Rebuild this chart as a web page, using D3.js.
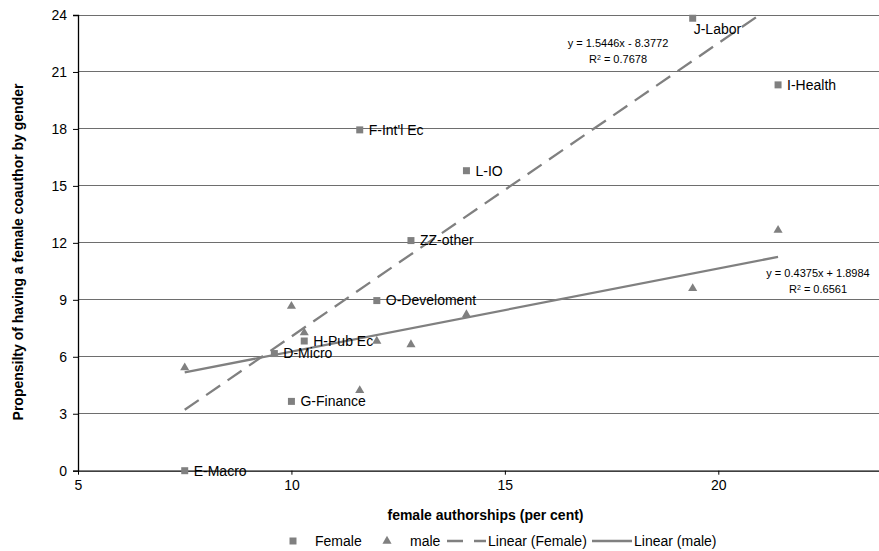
<!DOCTYPE html>
<html>
<head>
<meta charset="utf-8">
<script src="https://cdn.jsdelivr.net/npm/d3@7"></script>
<style>
  body { margin: 0; background: #fff; }
  svg { display: block; font-family: "Liberation Sans", Arial, sans-serif; }
</style>
</head>
<body>
<svg id="chart" width="879" height="551"></svg>
<script>
// ---- data ----
const fieldLabels = ["E-Macro", "D-Micro", "G-Finance", "H-Pub Ec", "O-Develoment", "ZZ-other", "F-Int'l Ec", "L-IO", "J-Labor", "I-Health"];
const femaleX = [7.5, 9.6, 10.0, 10.3, 12.0, 12.8, 11.6, 14.1, 19.4, 21.4];
const femaleY = [0.0, 6.17, 3.65, 6.83, 8.96, 12.12, 17.95, 15.8, 23.83, 20.32];
const maleX = [7.5, 10.0, 10.3, 12.0, 11.6, 12.8, 14.1, 19.4, 21.4];
const maleY = [5.4, 8.64, 7.24, 6.8, 4.2, 6.62, 8.2, 9.57, 12.64];
const femaleTrend = { slope: 1.5446, intercept: -8.3772, r2: "0.7678" };
const maleTrend = { slope: 0.4375, intercept: 1.8984, r2: "0.6561" };
const xTicks = [5, 10, 15, 20];
const yTicks = [0, 3, 6, 9, 12, 15, 18, 21, 24];
const legendLabels = ["Female", "male", "Linear (Female)", "Linear (male)"];
const xTitle = "female authorships (per cent)";
const yTitle = "Propensilty of having a female coauthor by gender";

// ---- layout ----
const svg = d3.select("#chart");
const W = 879;
const plotLeft = 78, plotBottom = 470.7, plotTop = 15;
const x = d3.scaleLinear().domain([5, 20]).range([plotLeft, 718.3]);
const y = d3.scaleLinear().domain([0, 24]).range([plotBottom, plotTop]);
const grey = "#808080";
const gridC = "#6e6e6e";

// gridlines
svg.append("g").selectAll("line").data(yTicks.filter(d => d > 0)).join("line")
  .attr("x1", plotLeft).attr("x2", W)
  .attr("y1", d => y(d)).attr("y2", d => y(d))
  .attr("stroke", gridC).attr("stroke-width", 1).attr("shape-rendering", "crispEdges");

// axes
const yAxis = svg.append("g").attr("transform", `translate(${plotLeft},0)`)
  .call(d3.axisLeft(y).tickValues(yTicks).tickSize(5).tickPadding(6).tickFormat(d3.format("d")));
const xAxis = svg.append("g").attr("transform", `translate(0,${plotBottom})`)
  .call(d3.axisBottom(x).tickValues(xTicks).tickSize(4).tickPadding(5).tickFormat(d3.format("d")));
xAxis.select(".domain").attr("d", `M${plotLeft},0.5H${W}`);
[xAxis, yAxis].forEach(a => {
  a.selectAll(".domain").attr("stroke", "#000").attr("stroke-width", 1.3);
  a.selectAll(".tick line").attr("stroke", "#000");
  a.selectAll(".tick text").attr("font-size", 14).attr("fill", "#000")
    .attr("font-family", "Liberation Sans, Arial, sans-serif");
});

// trendlines
function trendEnds(t, xs) {
  let x0 = d3.min(xs), x1 = d3.max(xs);
  const yMax = y.domain()[1];
  if (t.slope * x1 + t.intercept > yMax) x1 = (yMax - t.intercept) / t.slope;
  return [[x0, t.slope * x0 + t.intercept], [x1, t.slope * x1 + t.intercept]];
}
const line = d3.line().x(d => x(d[0])).y(d => y(d[1]));
svg.append("path").attr("d", line(trendEnds(femaleTrend, femaleX)))
  .attr("stroke", grey).attr("stroke-width", 2.3).attr("fill", "none")
  .attr("stroke-dasharray", "17,9");
svg.append("path").attr("d", line(trendEnds(maleTrend, maleX)))
  .attr("stroke", grey).attr("stroke-width", 2.3).attr("fill", "none");

// markers
const sq = d3.symbol().type(d3.symbolSquare).size(49);
const tri = d3.symbol().type(d3.symbolTriangle).size(36);
const maleData = maleX.map((v, i) => ({ x: v, y: maleY[i] }));
const femaleData = femaleX.map((v, i) => ({ x: v, y: femaleY[i], label: fieldLabels[i] }));
svg.append("g").selectAll("path").data(femaleData).join("path")
  .attr("d", sq).attr("fill", grey)
  .attr("transform", d => `translate(${x(d.x)},${y(d.y)})`);
svg.append("g").selectAll("path").data(maleData).join("path")
  .attr("d", tri).attr("fill", grey)
  .attr("transform", d => `translate(${x(d.x)},${y(d.y) - 0.5})`);

// data labels
svg.append("g").selectAll("text").data(femaleData).join("text")
  .attr("x", d => x(d.x) + (d.y > 23 ? 1 : 9))
  .attr("y", d => y(d.y) + (d.y > 23 ? 11 : 0))
  .attr("dy", "0.35em")
  .attr("font-size", 14).attr("fill", "#000")
  .text(d => d.label);

// equations
function eq(t, cx, cy) {
  const g = svg.append("g").attr("font-size", 11).attr("fill", "#000").attr("text-anchor", "middle");
  const sign = t.intercept < 0 ? "-" : "+";
  g.append("text").attr("x", cx).attr("y", cy).attr("dy", "0.35em")
    .text(`y = ${t.slope}x ${sign} ${Math.abs(t.intercept)}`);
  const r = g.append("text").attr("x", cx).attr("y", cy + 16).attr("dy", "0.35em");
  r.append("tspan").text("R");
  r.append("tspan").attr("font-size", 7).attr("dy", "-0.45em").text("2");
  r.append("tspan").attr("dy", "0.3em").text(` = ${t.r2}`);
}
eq(femaleTrend, 618, 43);
eq(maleTrend, 818, 273);

// titles
svg.append("text").attr("x", 485.5).attr("y", 515).attr("dy", "0.35em")
  .attr("text-anchor", "middle").attr("font-size", 14).attr("font-weight", "bold").text(xTitle);
svg.append("text").attr("transform", "translate(18,252) rotate(-90)").attr("dy", "0.35em")
  .attr("text-anchor", "middle").attr("font-size", 14).attr("font-weight", "bold").text(yTitle);

// legend
const ly = 541;
const lg = svg.append("g").attr("font-size", 14).attr("fill", "#000");
lg.append("path").attr("d", sq).attr("fill", grey).attr("transform", `translate(293,${ly})`);
lg.append("text").attr("x", 315).attr("y", ly).attr("dy", "0.35em").text(legendLabels[0]);
lg.append("path").attr("d", tri).attr("fill", grey).attr("transform", `translate(387,${ly})`);
lg.append("text").attr("x", 410).attr("y", ly).attr("dy", "0.35em").text(legendLabels[1]);
lg.append("line").attr("x1", 447).attr("x2", 486).attr("y1", ly).attr("y2", ly)
  .attr("stroke", grey).attr("stroke-width", 2.3).attr("stroke-dasharray", "16,11");
lg.append("text").attr("x", 488).attr("y", ly).attr("dy", "0.35em").text(legendLabels[2]);
lg.append("line").attr("x1", 592).attr("x2", 632).attr("y1", ly).attr("y2", ly)
  .attr("stroke", grey).attr("stroke-width", 2.3);
lg.append("text").attr("x", 634).attr("y", ly).attr("dy", "0.35em").text(legendLabels[3]);
</script>
</body>
</html>
